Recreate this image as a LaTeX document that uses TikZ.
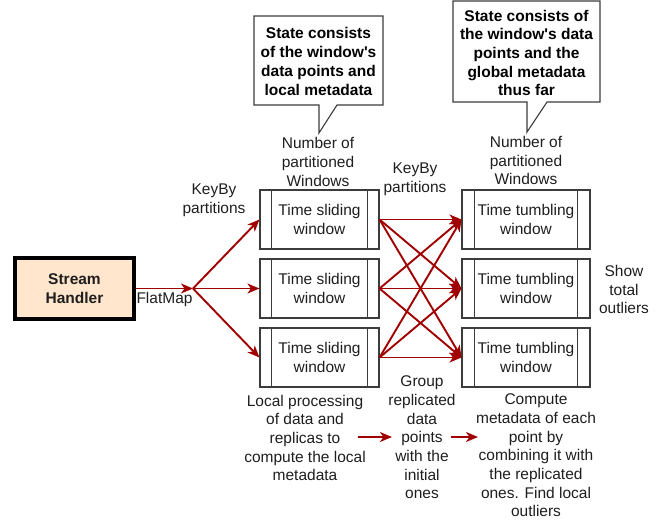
\documentclass[tikz,border=0pt]{standalone}
\usepackage{fontspec}
\setmainfont{Liberation Sans}[Ligatures=TeXOff]
\usetikzlibrary{arrows.meta,calc}
\definecolor{dred}{RGB}{160,0,0}
\definecolor{peach}{RGB}{255,230,204}
\definecolor{bord}{RGB}{60,60,60}
\definecolor{txt}{RGB}{30,30,30}
\begin{document}
\begin{tikzpicture}[x=1pt,y=-1pt,
  fnt/.style={font=\fontsize{15.5}{18.7}\selectfont},
  lbl/.style={fnt, text=txt, align=center, inner sep=0pt},
  win/.style={fnt, draw=bord, line width=1.1pt, minimum height=59pt, inner sep=0pt, align=center, text=txt},
  arr/.style={draw=dred, line width=1.9pt, -{Stealth[length=12pt,width=10pt,inset=3.5pt]}},
  callout/.style={draw=bord, line width=1.1pt, fill=white},
  bold/.style={fnt, font=\fontsize{15.5}{18.7}\selectfont\bfseries, align=center, inner sep=0pt, text=black}]
\useasboundingbox (0,0) rectangle (667,523);

% Stream handler
\node[draw=black, line width=3.5pt, fill=peach, minimum width=119pt, minimum height=61pt,
  inner sep=0pt, align=center, font=\fontsize{15.5}{18.7}\selectfont\bfseries, text=txt] (sh) at (74.5,288.5) {Stream\\Handler};

% windows
\foreach \i/\y in {1/219.5,2/288.5,3/357.5}{
  \node[win, minimum width=119pt] (s\i) at (319.5,\y) {Time sliding\\window};
  \draw[bord, line width=1.1pt] ($(s\i.north west)+(12,0)$) -- ($(s\i.south west)+(12,0)$);
  \draw[bord, line width=1.1pt] ($(s\i.north east)+(-12,0)$) -- ($(s\i.south east)+(-12,0)$);
  \node[win, minimum width=128pt] (t\i) at (526,\y) {Time tumbling\\window};
  \draw[bord, line width=1.1pt] ($(t\i.north west)+(13,0)$) -- ($(t\i.south west)+(13,0)$);
  \draw[bord, line width=1.1pt] ($(t\i.north east)+(-13,0)$) -- ($(t\i.south east)+(-13,0)$);
}

% flatmap junction
\coordinate (j) at (193,288.5);
\draw[arr] (sh.east) -- (j);
\foreach \i in {1,2,3}{ \draw[arr] (j) -- (s\i.west); }
\foreach \i in {1,2,3}{ \foreach \k in {1,2,3}{ \draw[arr] (s\i.east) -- (t\k.west); } }

% labels
\node[lbl] (fm) at (164.5,299) {FlatMap};
\node[lbl] (kb1) at (214,200) {KeyBy\\partitions};
\node[lbl] (kb2) at (415,179) {KeyBy\\partitions};
\node[lbl] (np1) at (318,162) {Number of\\partitioned\\Windows};
\node[lbl] (np2) at (526,160.5) {Number of\\partitioned\\Windows};
\node[lbl] (show) at (624,289.5) {Show\\total\\outliers};

% callouts
\draw[callout] (254,16) -- (383,16) -- (383,105) -- (337,105) -- (319,133) -- (319,105) -- (254,105) -- cycle;
\node[bold] (c1) at (318.5,61.5) {State consists\\of the window's\\data points and\\local metadata};
\draw[callout] (453,1) -- (600,1) -- (600,102) -- (547,102) -- (527,132) -- (527,102) -- (453,102) -- cycle;
\node[bold] (c2) at (526.5,53) {State consists of\\the window's data\\points and the\\global metadata\\thus far};

% bottom texts
\node[lbl] (loc) at (305,438) {Local processing\\of data and\\replicas to\\compute the local\\metadata};
\node[lbl] (grp) at (422,437.5) {Group\\replicated\\data\\points\\with the\\initial\\ones};
\node[lbl] (cmp) at (536,455.5) {Compute\\metadata of each\\point by\\combining it with\\the replicated\\ones. Find local\\outliers};
\coordinate (a1s) at (358,437);
\coordinate (a1e) at (392,437);
\coordinate (a2s) at (451,437);
\coordinate (a2e) at (478,437);
\draw[arr] (a1s) -- (a1e);
\draw[arr] (a2s) -- (a2e);
\end{tikzpicture}
\end{document}
